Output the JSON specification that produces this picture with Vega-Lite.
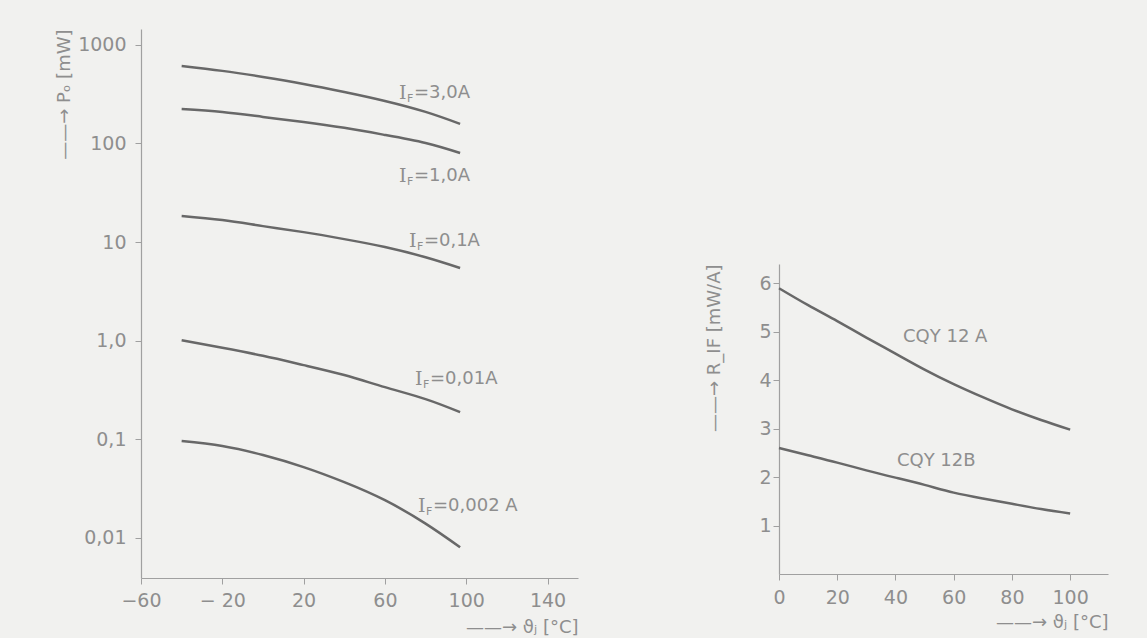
{
  "$schema": "https://vega.github.io/schema/vega-lite/v6.json",
  "background": "#f1f1ef",
  "padding": {"left": 55, "top": 28, "right": 39, "bottom": 2},
  "spacing": 127,
  "config": {
    "view": {"stroke": null},
    "font": "DejaVu Sans",
    "axis": {
      "grid": false,
      "domainColor": "#a0a0a0",
      "domainWidth": 1.2,
      "tickColor": "#a0a0a0",
      "tickSize": 6,
      "labelColor": "#8e8e8e",
      "labelFont": "DejaVu Sans",
      "labelFontSize": 19,
      "labelFlush": false,
      "labelOverlap": false,
      "titleColor": "#8e8e8e",
      "titleFont": "DejaVu Sans",
      "titleFontSize": 18,
      "titleFontWeight": "normal"
    }
  },
  "datasets": {
    "po": [
      {"s": "3,0A", "t": -40, "p": 612}, {"s": "3,0A", "t": -20, "p": 545}, {"s": "3,0A", "t": 0, "p": 473}, {"s": "3,0A", "t": 20, "p": 402}, {"s": "3,0A", "t": 40, "p": 333}, {"s": "3,0A", "t": 60, "p": 270}, {"s": "3,0A", "t": 80, "p": 209}, {"s": "3,0A", "t": 97, "p": 158},
      {"s": "1,0A", "t": -40, "p": 224}, {"s": "1,0A", "t": -20, "p": 209}, {"s": "1,0A", "t": 0, "p": 186}, {"s": "1,0A", "t": 20, "p": 165}, {"s": "1,0A", "t": 40, "p": 144}, {"s": "1,0A", "t": 60, "p": 122}, {"s": "1,0A", "t": 80, "p": 101}, {"s": "1,0A", "t": 97, "p": 80},
      {"s": "0,1A", "t": -40, "p": 18.4}, {"s": "0,1A", "t": -20, "p": 16.7}, {"s": "0,1A", "t": 0, "p": 14.5}, {"s": "0,1A", "t": 20, "p": 12.6}, {"s": "0,1A", "t": 40, "p": 10.7}, {"s": "0,1A", "t": 60, "p": 8.9}, {"s": "0,1A", "t": 80, "p": 7.0}, {"s": "0,1A", "t": 97, "p": 5.45},
      {"s": "0,01A", "t": -40, "p": 1.01}, {"s": "0,01A", "t": -20, "p": 0.845}, {"s": "0,01A", "t": 0, "p": 0.70}, {"s": "0,01A", "t": 20, "p": 0.564}, {"s": "0,01A", "t": 40, "p": 0.447}, {"s": "0,01A", "t": 60, "p": 0.337}, {"s": "0,01A", "t": 80, "p": 0.255}, {"s": "0,01A", "t": 97, "p": 0.188},
      {"s": "0,002A", "t": -40, "p": 0.0955}, {"s": "0,002A", "t": -20, "p": 0.085}, {"s": "0,002A", "t": 0, "p": 0.0689}, {"s": "0,002A", "t": 20, "p": 0.052}, {"s": "0,002A", "t": 40, "p": 0.0366}, {"s": "0,002A", "t": 60, "p": 0.024}, {"s": "0,002A", "t": 80, "p": 0.0139}, {"s": "0,002A", "t": 97, "p": 0.008}
    ],
    "polab": [
      {"t": 66.9, "p": 326, "main": "I", "sub": "F", "rest": "=3,0A"},
      {"t": 66.9, "p": 46.9, "main": "I", "sub": "F", "rest": "=1,0A"},
      {"t": 71.8, "p": 10.3, "main": "I", "sub": "F", "rest": "=0,1A"},
      {"t": 74.8, "p": 0.41, "main": "I", "sub": "F", "rest": "=0,01A"},
      {"t": 76.3, "p": 0.0211, "main": "I", "sub": "F", "rest": "=0,002 A"}
    ],
    "r": [
      {"s": "CQY 12 A", "t": 0, "v": 5.9}, {"s": "CQY 12 A", "t": 10, "v": 5.55}, {"s": "CQY 12 A", "t": 20, "v": 5.22}, {"s": "CQY 12 A", "t": 30, "v": 4.88}, {"s": "CQY 12 A", "t": 40, "v": 4.55}, {"s": "CQY 12 A", "t": 50, "v": 4.22}, {"s": "CQY 12 A", "t": 60, "v": 3.92}, {"s": "CQY 12 A", "t": 70, "v": 3.65}, {"s": "CQY 12 A", "t": 80, "v": 3.4}, {"s": "CQY 12 A", "t": 90, "v": 3.18}, {"s": "CQY 12 A", "t": 100, "v": 2.98},
      {"s": "CQY 12B", "t": 0, "v": 2.6}, {"s": "CQY 12B", "t": 10, "v": 2.45}, {"s": "CQY 12B", "t": 20, "v": 2.3}, {"s": "CQY 12B", "t": 30, "v": 2.14}, {"s": "CQY 12B", "t": 40, "v": 1.99}, {"s": "CQY 12B", "t": 50, "v": 1.84}, {"s": "CQY 12B", "t": 60, "v": 1.68}, {"s": "CQY 12B", "t": 70, "v": 1.56}, {"s": "CQY 12B", "t": 80, "v": 1.45}, {"s": "CQY 12B", "t": 90, "v": 1.34}, {"s": "CQY 12B", "t": 100, "v": 1.25}
    ],
    "rlab": [
      {"t": 42.6, "v": 4.89, "label": "CQY 12 A"},
      {"t": 40.5, "v": 2.34, "label": "CQY 12B"}
    ]
  },
  "hconcat": [
    {
      "width": 437,
      "height": 549,
      "layer": [
        {
          "data": {"name": "po"},
          "mark": {"type": "line", "color": "#686868", "strokeWidth": 2.5, "interpolate": "natural"},
          "encoding": {
            "x": {
              "field": "t", "type": "quantitative",
              "scale": {"domain": [-60, 155], "nice": false, "zero": false},
              "axis": {
                "values": [-60, -20, 20, 60, 100, 140],
                "labelExpr": "datum.value == -60 ? '−60' : datum.value == -20 ? '− 20' : datum.label",
                "labelPadding": 7,
                "title": "——→  ϑⱼ [°C]",
                "titleAnchor": "end",
                "titlePadding": 8
              }
            },
            "y": {
              "field": "p", "type": "quantitative",
              "scale": {"type": "log", "domain": [0.0039, 1450], "nice": false},
              "axis": {
                "values": [0.01, 0.1, 1, 10, 100, 1000],
                "labelExpr": "datum.value == 1 ? '1,0' : datum.value < 0.05 ? '0,01' : datum.value < 0.5 ? '0,1' : datum.value < 50 ? '10' : datum.value < 500 ? '100' : '1000'",
                "labelPadding": 9,
                "title": "——→  Pₒ [mW]",
                "titleAnchor": "end",
                "titlePadding": 4
              }
            },
            "detail": {"field": "s"}
          }
        },
        {
          "data": {"name": "polab"},
          "mark": {"type": "text", "align": "left", "baseline": "middle", "fontSize": 19, "color": "#8e8e8e", "font": "DejaVu Serif"},
          "encoding": {
            "x": {"field": "t", "type": "quantitative"},
            "y": {"field": "p", "type": "quantitative"},
            "text": {"field": "main"}
          }
        },
        {
          "data": {"name": "polab"},
          "mark": {"type": "text", "align": "left", "baseline": "middle", "fontSize": 11, "dx": 8, "dy": 6, "color": "#8e8e8e"},
          "encoding": {
            "x": {"field": "t", "type": "quantitative"},
            "y": {"field": "p", "type": "quantitative"},
            "text": {"field": "sub"}
          }
        },
        {
          "data": {"name": "polab"},
          "mark": {"type": "text", "align": "left", "baseline": "middle", "fontSize": 18, "dx": 15, "color": "#8e8e8e"},
          "encoding": {
            "x": {"field": "t", "type": "quantitative"},
            "y": {"field": "p", "type": "quantitative"},
            "text": {"field": "rest"}
          }
        }
      ]
    },
    {
      "width": 329,
      "height": 549,
      "layer": [
        {
          "data": {"name": "r"},
          "mark": {"type": "line", "color": "#686868", "strokeWidth": 2.5, "interpolate": "natural"},
          "encoding": {
            "x": {
              "field": "t", "type": "quantitative",
              "scale": {"domain": [0, 113], "nice": false},
              "axis": {
                "values": [0, 20, 40, 60, 80, 100],
                "format": "d",
                "offset": -4,
                "labelPadding": 8,
                "title": "——→  ϑⱼ [°C]",
                "titleAnchor": "end",
                "titlePadding": 6
              }
            },
            "y": {
              "field": "v", "type": "quantitative",
              "scale": {"domain": [0, 6.4], "nice": false, "range": [545, 235]},
              "axis": {
                "values": [1, 2, 3, 4, 5, 6],
                "format": "d",
                "labelPadding": 2,
                "title": "——→  R_IF [mW/A]",
                "titleAnchor": "end",
                "titlePadding": 35
              }
            },
            "detail": {"field": "s"}
          }
        },
        {
          "data": {"name": "rlab"},
          "mark": {"type": "text", "align": "left", "baseline": "middle", "fontSize": 18, "color": "#8e8e8e"},
          "encoding": {
            "x": {"field": "t", "type": "quantitative"},
            "y": {"field": "v", "type": "quantitative"},
            "text": {"field": "label"}
          }
        }
      ]
    }
  ]
}
